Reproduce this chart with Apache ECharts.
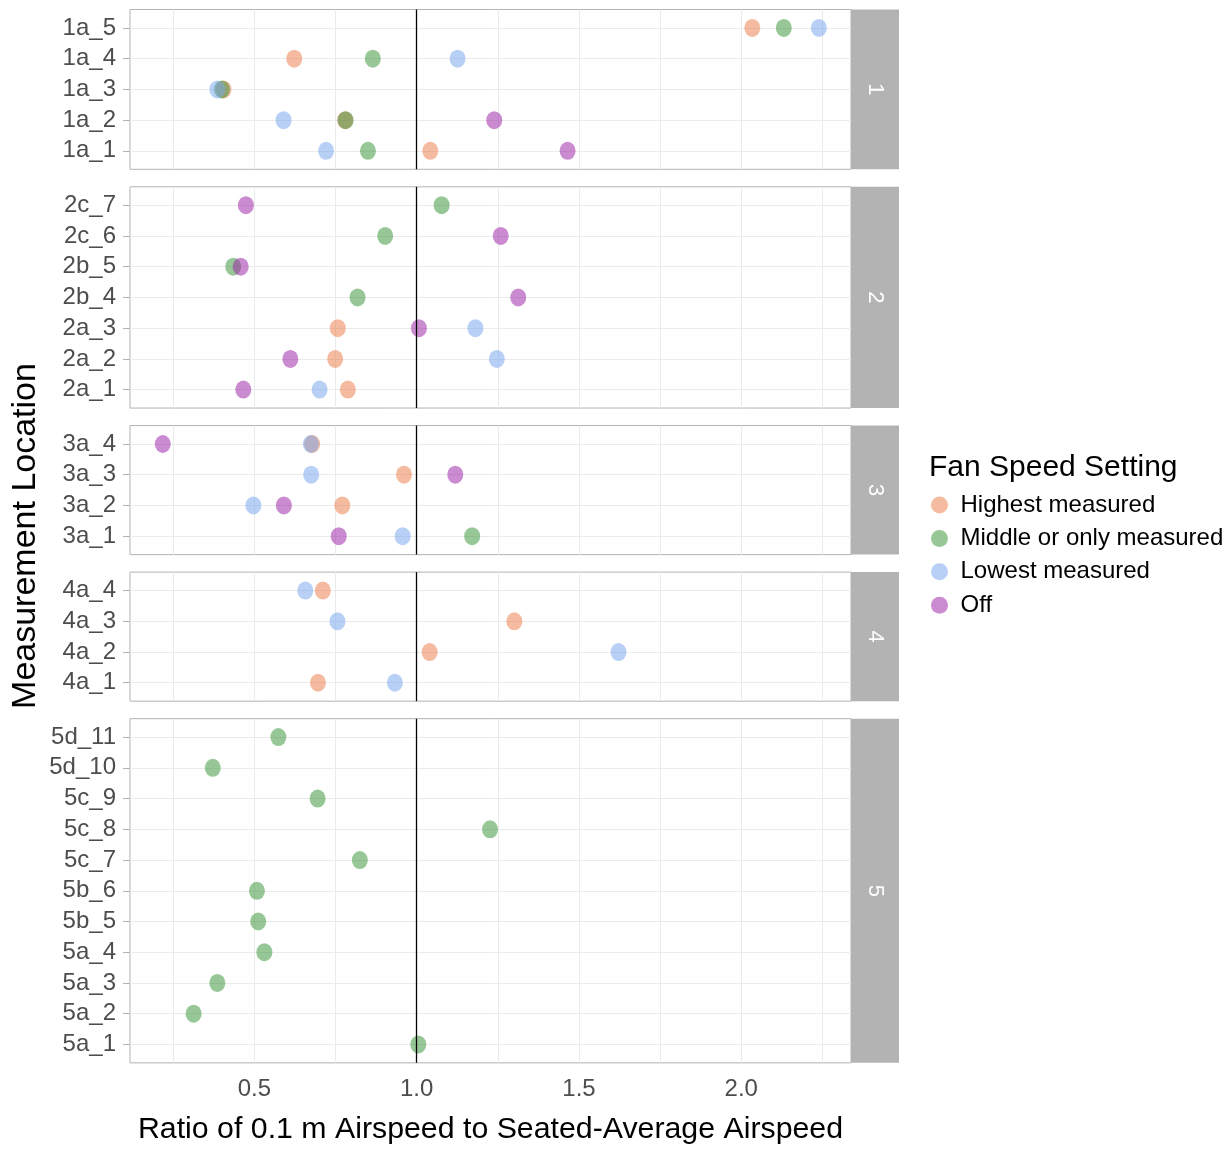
<!DOCTYPE html>
<html>
<head>
<meta charset="utf-8">
<script src="https://cdn.jsdelivr.net/npm/echarts@6/dist/echarts.min.js"></script>
<style>html,body{margin:0;padding:0;background:#fff}</style>
</head>
<body>
<div id="chart" style="width:1230px;height:1149px"></div>
<script>
// measurement locations of each panel, listed bottom to top
const rows1 = ['1a_1', '1a_2', '1a_3', '1a_4', '1a_5'];
const rows2 = ['2a_1', '2a_2', '2a_3', '2b_4', '2b_5', '2c_6', '2c_7'];
const rows3 = ['3a_1', '3a_2', '3a_3', '3a_4'];
const rows4 = ['4a_1', '4a_2', '4a_3', '4a_4'];
const rows5 = ['5a_1', '5a_2', '5a_3', '5a_4', '5b_5', '5b_6', '5c_7', '5c_8', '5c_9', '5d_10', '5d_11'];

// ratio per fan setting, same order as the rows (null = not measured)
const highest1 = [1.042, 0.780, 0.405, 0.623, 2.034];
const middle1 = [0.850, 0.781, 0.400, 0.865, 2.131];
const lowest1 = [0.721, 0.590, 0.386, 1.126, 2.239];
const off1 = [1.465, 1.239, null, null, null];

const highest2 = [0.788, 0.749, 0.757, null, null, null, null];
const middle2 = [null, null, null, 0.818, 0.435, 0.903, 1.077];
const lowest2 = [0.701, 1.247, 1.181, null, null, null, null];
const off2 = [0.466, 0.611, 1.007, 1.313, 0.458, 1.259, 0.474];

const highest3 = [null, 0.771, 0.961, 0.678];
const middle3 = [1.171, null, null, null];
const lowest3 = [0.957, 0.497, 0.675, 0.674];
const off3 = [0.760, 0.591, 1.119, 0.218];

const highest4 = [0.696, 1.040, 1.301, 0.711];
const lowest4 = [0.933, 1.622, 0.756, 0.657];

const middle5 = [1.005, 0.313, 0.386, 0.531, 0.512, 0.508, 0.825, 1.226, 0.695, 0.372, 0.574];

const panelLabels = ['1', '2', '3', '4', '5'];
const settings = ['Highest measured', 'Middle or only measured', 'Lowest measured', 'Off'];
const xTickLabels = [0.5, 1.0, 1.5, 2.0];
const xGridValues = [0.25, 0.5, 0.75, 1.0, 1.25, 1.5, 1.75, 2.0, 2.25];
const refValue = 1;

const colors = ['rgba(235,124,72,0.65)', 'rgba(55,147,55,0.65)', 'rgba(118,164,238,0.65)', 'rgba(155,32,164,0.65)'];

const panels = [
  {rows: rows1, values: [highest1, middle1, lowest1, off1]},
  {rows: rows2, values: [highest2, middle2, lowest2, off2]},
  {rows: rows3, values: [highest3, middle3, lowest3, off3]},
  {rows: rows4, values: [highest4, null, lowest4, null]},
  {rows: rows5, values: [null, middle5, null, null]}
];

// layout
const plotLeft = 130, plotRight = 851, stripW = 48;
const rowH = 30.73, gap = 17.5, top0 = 9.5;
const font = 'Liberation Sans';
const ellipse = 'path://M50 0A50 50 0 1 1 50 100A50 50 0 1 1 50 0Z';

const grids = [], xAxes = [], yAxes = [], series = [], graphics = [];
let panelTop = top0;
panels.forEach((p, i) => {
  const n = p.rows.length;
  const h = (n + 0.2) * rowH;
  const idx = p.rows.map((r, k) => k);
  grids.push({left: plotLeft, width: plotRight - plotLeft, top: panelTop, height: h,
    show: true, borderColor: '#B3B3B3', borderWidth: 1, backgroundColor: '#fff'});
  xAxes.push({
    type: 'value', gridIndex: i, min: 0.117, max: 2.338,
    axisLine: {show: false},
    axisTick: {show: false, customValues: xGridValues},
    axisLabel: {show: i === panels.length - 1, customValues: xTickLabels,
      formatter: v => v.toFixed(1), color: '#4D4D4D', fontSize: 24, fontFamily: font, margin: 15},
    splitLine: {show: true, lineStyle: {color: '#EBEBEB', width: 1}}
  });
  yAxes.push({
    type: 'value', gridIndex: i, min: -0.6, max: n - 0.4,
    axisLine: {show: false},
    axisTick: {show: true, customValues: idx, length: 7, lineStyle: {color: '#B3B3B3'}},
    axisLabel: {customValues: idx, formatter: v => p.rows[Math.round(v)],
      color: '#4D4D4D', fontSize: 24, fontFamily: font, margin: 14},
    splitLine: {show: true, lineStyle: {color: '#EBEBEB', width: 1}}
  });
  let lineDone = false;
  p.values.forEach((vals, s) => {
    if (!vals) return;
    const data = [];
    vals.forEach((v, k) => { if (v != null) data.push([v, k]); });
    const ser = {
      name: settings[s], type: 'scatter', xAxisIndex: i, yAxisIndex: i,
      symbol: ellipse, symbolSize: [16, 18],
      itemStyle: {color: colors[s]},
      emphasis: {disabled: true},
      data: data
    };
    if (!lineDone) {
      ser.markLine = {silent: true, symbol: 'none', z: 10,
        lineStyle: {color: '#000', width: 1.3, type: 'solid'},
        label: {show: false}, emphasis: {disabled: true},
        data: [{xAxis: refValue}]};
      lineDone = true;
    }
    series.push(ser);
  });
  graphics.push({type: 'rect', shape: {x: plotRight, y: panelTop, width: stripW, height: h},
    style: {fill: '#B3B3B3'}});
  graphics.push({type: 'text', x: plotRight + stripW / 2, y: panelTop + h / 2, rotation: -Math.PI / 2,
    style: {text: panelLabels[i], fill: '#fff', font: '22px ' + font, align: 'center', verticalAlign: 'middle'}});
  panelTop += h + gap;
});

graphics.push({type: 'text', x: 26, y: 536, rotation: Math.PI / 2,
  style: {text: 'Measurement Location', fill: '#000', font: '34px ' + font, align: 'center', verticalAlign: 'middle'}});
graphics.push({type: 'text', x: (plotLeft + plotRight) / 2, y: 1130,
  style: {text: 'Ratio of 0.1 m Airspeed to Seated-Average Airspeed', fill: '#000', font: '30.3px ' + font, align: 'center', verticalAlign: 'middle'}});
graphics.push({type: 'text', x: 929, y: 468,
  style: {text: 'Fan Speed Setting', fill: '#000', font: '30px ' + font, align: 'left', verticalAlign: 'middle'}});

const chart = echarts.init(document.getElementById('chart'));
chart.setOption({
  animation: false,
  backgroundColor: '#fff',
  textStyle: {fontFamily: font},
  color: colors,
  legend: {
    data: settings, orient: 'vertical', left: 931, top: 493, padding: 0,
    icon: 'circle', itemWidth: 22, itemHeight: 17, itemGap: 9.4,
    selectedMode: false,
    textStyle: {color: '#000', fontSize: 24, fontFamily: font, lineHeight: 24, padding: [0, 0, 0, 5]}
  },
  grid: grids,
  xAxis: xAxes,
  yAxis: yAxes,
  series: series,
  graphic: graphics
});
</script>
</body>
</html>
